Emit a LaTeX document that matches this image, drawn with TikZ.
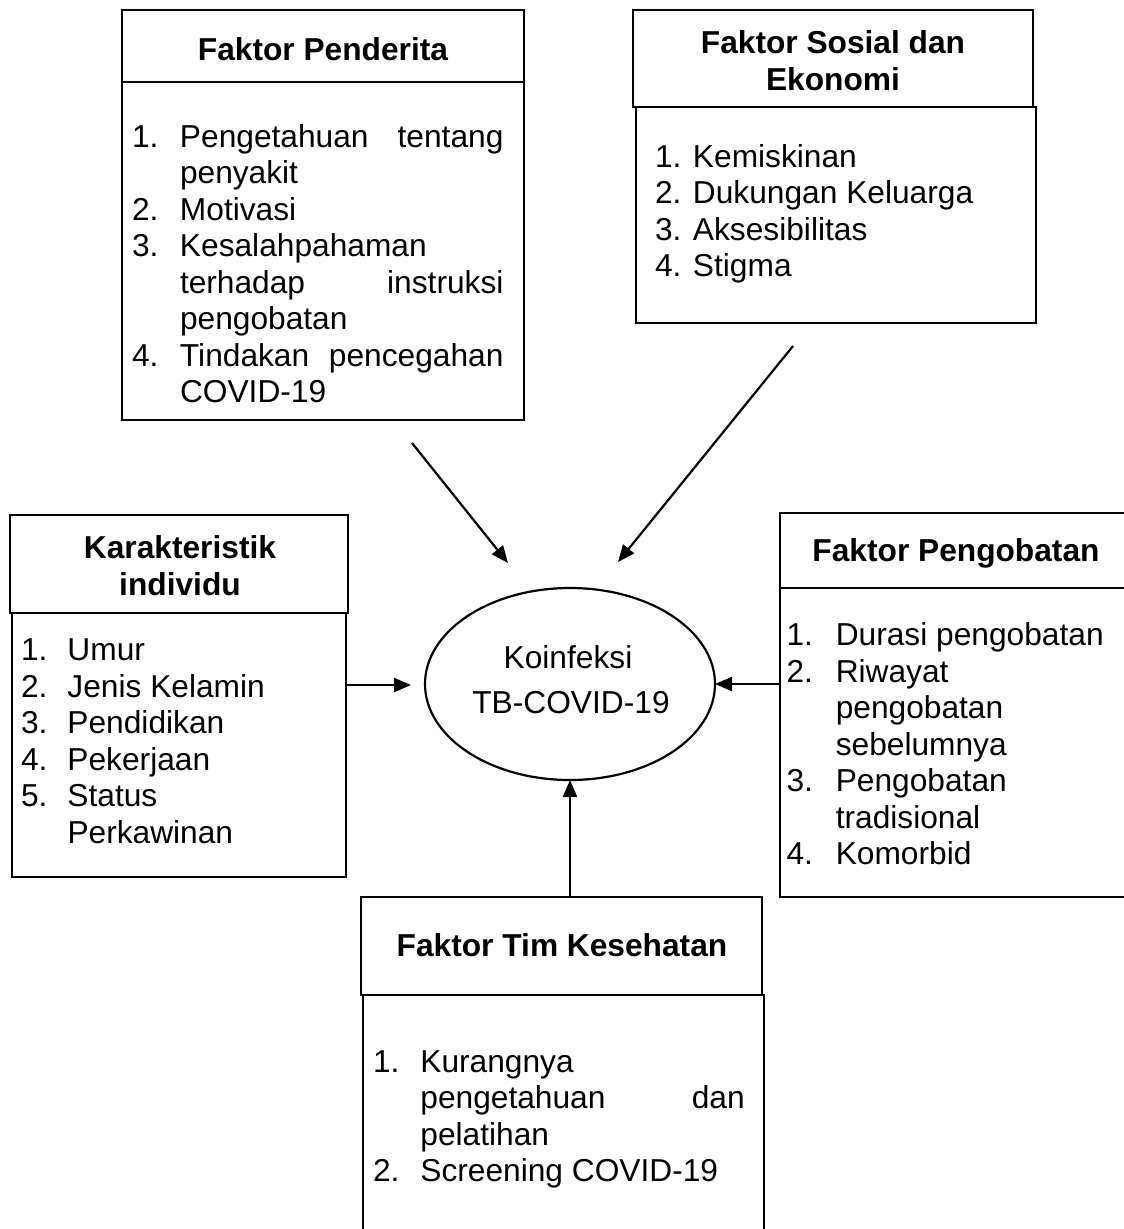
\documentclass[tikz,border=0pt]{standalone}
\usepackage{fontspec}
\setmainfont{Liberation Sans}
\usetikzlibrary{arrows.meta,shapes.geometric}
\newcommand{\itm}[3]{\par\hangindent=#1pt\hangafter=1\noindent\makebox[#1pt][l]{\rule{0pt}{26pt}#2}#3\par}
\begin{document}
\begin{tikzpicture}[x=1pt,y=-1pt,
  every node/.style={inner sep=0pt, outer sep=0pt, font=\fontsize{31.7}{36.5}\selectfont},
  boxline/.style={draw, line width=2.4pt},
  hdr/.style={boxline, anchor=north west},
  ttl/.style={anchor=base, font=\fontsize{31.7}{36.5}\selectfont\bfseries},
  lst/.style={anchor=north west, align=justify, execute at begin node={\hyphenpenalty=10000\exhyphenpenalty=10000}},
  arr/.style={line width=2.2pt, -{Triangle[length=17pt,width=14pt]}}
]
\useasboundingbox (0,0) rectangle (1124,1229);

% Faktor Penderita
\node[hdr, minimum width=402pt, minimum height=338pt] (penB) at (122,82) {};
\node[hdr, minimum width=402pt, minimum height=72pt] (penH) at (122,10) {};
\node[ttl] (penT) at (323,60) {Faktor Penderita};
\node[lst, text width=371.5pt] (penL) at (132,110.7) {%
\itm{48}{1.}{Pengetahuan\hfill tentang\break penyakit}%
\itm{48}{2.}{Motivasi}%
\itm{48}{3.}{Kesalahpahaman\hfil\break terhadap\hfill instruksi\break pengobatan}%
\itm{48}{4.}{Tindakan\hfill pencegahan\break COVID-19}};

% Faktor Sosial dan Ekonomi
\node[hdr, minimum width=400pt, minimum height=216pt] (sosB) at (636,107) {};
\node[hdr, minimum width=400pt, minimum height=97pt] (sosH) at (633,10) {};
\node[ttl] (sosT1) at (833,53.3) {Faktor Sosial dan};
\node[ttl] (sosT2) at (833,90) {Ekonomi};
\node[lst, text width=340pt] (sosL) at (655,130.7) {%
\itm{38}{1.}{Kemiskinan}%
\itm{38}{2.}{Dukungan Keluarga}%
\itm{38}{3.}{Aksesibilitas}%
\itm{38}{4.}{Stigma}};

% Karakteristik individu
\node[hdr, minimum width=334pt, minimum height=264pt] (karB) at (12,613) {};
\node[hdr, minimum width=338pt, minimum height=98pt] (karH) at (10,515) {};
\node[ttl] (karT1) at (180,558.3) {Karakteristik};
\node[ttl] (karT2) at (180,595) {individu};
\node[lst, text width=320pt] (karL) at (21,624) {%
\itm{46.5}{1.}{Umur}%
\itm{46.5}{2.}{Jenis Kelamin}%
\itm{46.5}{3.}{Pendidikan}%
\itm{46.5}{4.}{Pekerjaan}%
\itm{46.5}{5.}{Status\hfil\break Perkawinan}};

% Faktor Pengobatan
\node[hdr, minimum width=355pt, minimum height=309pt] (pengB) at (780,588) {};
\node[hdr, minimum width=355pt, minimum height=75pt] (pengH) at (780,513) {};
\node[ttl] (pengT) at (956,561.7) {Faktor Pengobatan};
\node[lst, text width=330pt] (pengL) at (786.5,609) {%
\itm{49.3}{1.}{Durasi pengobatan}%
\itm{49.3}{2.}{Riwayat\hfil\break pengobatan\hfil\break sebelumnya}%
\itm{49.3}{3.}{Pengobatan\hfil\break tradisional}%
\itm{49.3}{4.}{Komorbid}};

% Faktor Tim Kesehatan
\node[hdr, minimum width=401pt, minimum height=250pt] (timB) at (363,995) {};
\node[hdr, minimum width=401pt, minimum height=98pt] (timH) at (361,897) {};
\node[ttl] (timT) at (562,956.7) {Faktor Tim Kesehatan};
\node[lst, text width=371.7pt] (timL) at (373,1035.7) {%
\itm{47.4}{1.}{Kurangnya\hfil\break pengetahuan\hfill dan\break pelatihan}%
\itm{47.4}{2.}{Screening COVID-19}};

% Central ellipse
\node[ellipse, draw, line width=2.2pt, minimum width=290pt, minimum height=192pt] (ell) at (570,684) {};
\node[anchor=base] (ellT1) at (568,668.3) {Koinfeksi};
\node[anchor=base] (ellT2) at (571,713.3) {TB-COVID-19};

% Connectors
\coordinate (a1s) at (412,443);
\coordinate (a1e) at (508,563);
\draw[arr] (a1s) -- (a1e);
\coordinate (a2s) at (793,346);
\coordinate (a2e) at (618,562);
\draw[arr] (a2s) -- (a2e);
\coordinate (a3e) at (411,685);
\draw[arr] (karB.east |- a3e) -- (a3e);
\draw[arr] (pengB.west |- ell.east) -- (ell.east);
\draw[arr] (ell.south |- timH.north) -- (ell.south);
\end{tikzpicture}
\end{document}
